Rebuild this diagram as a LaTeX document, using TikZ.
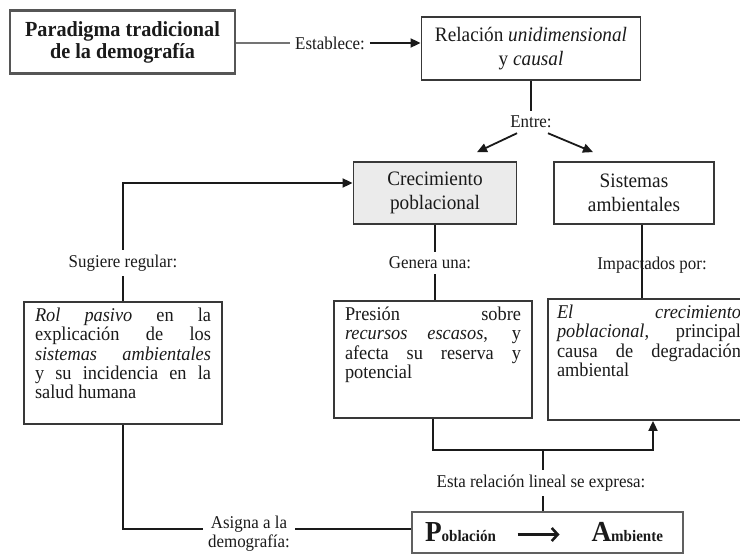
\documentclass[tikz,border=0pt]{standalone}
\usepackage{fontspec}
\setmainfont{Liberation Serif}[FakeStretch=0.94]
\usetikzlibrary{arrows.meta,calc}
\hbadness=10000
\hfuzz=5pt
\definecolor{ink}{HTML}{1A1A1A}
\definecolor{edge}{HTML}{383838}
\definecolor{shade}{HTML}{EBEBEB}
\newcommand{\bodytext}[3]{\parbox[c][#2][t]{#1}{\fontsize{19.5}{19.3}\selectfont #3}}
\begin{document}
\begin{tikzpicture}[x=1pt,y=-1pt,
  boxh/.style={draw=edge, line width=1.8pt, text=ink, align=center, inner sep=0pt, font=\fontsize{20.5}{24}\selectfont},
  boxb/.style={draw=edge, line width=1.8pt, text=ink, inner ysep=6pt},
  lbl/.style={text=ink, inner sep=5pt, font=\fontsize{18}{19}\selectfont, align=center},
  conn/.style={draw=ink, line width=1.8pt},
  arr/.style={conn, -{Triangle[length=10pt,width=9pt]}}]
\useasboundingbox (0,0) rectangle (740,554);
\clip (0,0) rectangle (740,554);

% boxes
\node[boxh, draw=edge!85, line width=2.4pt, minimum width=225pt, minimum height=63pt,
      font=\bfseries\fontsize{21.5}{22}\selectfont] (par) at (122.5,42) {Paradigma tradicional\\de la demografía};
\node[boxh, minimum width=219pt, minimum height=63pt] (rel) at (531,48.5)
      {Relación \textit{unidimensional}\\y \textit{causal}};
\node[boxh, fill=shade, minimum width=163pt, minimum height=62pt] (crec) at (435,193)
      {Crecimiento\\poblacional};
\node[boxh, minimum width=160pt, minimum height=62pt] (sist) at (634,193)
      {Sistemas\\ambientales};
\node[boxb, inner xsep=11pt] (rol) at (123,363)
      {\bodytext{176pt}{110pt}{\textit{Rol pasivo} en la\linebreak
       explicación de los\linebreak \textit{sistemas ambientales}\linebreak
       y su incidencia en la\linebreak salud humana}};
\node[boxb, inner xsep=11pt] (pres) at (433,359.5)
      {\bodytext{176pt}{105pt}{Presión sobre\linebreak
       \textit{recursos escasos}, y\linebreak afecta su reserva y\linebreak potencial}};
\node[boxb, inner xsep=9pt] (elc) at (649,359.5)
      {\bodytext{184pt}{109pt}{\textit{El crecimiento}\linebreak
       \textit{poblacional}, principal\linebreak causa de degradación\linebreak ambiental}};
\node[draw=edge!80, line width=2.2pt, text=ink, inner sep=0pt, minimum width=271pt, minimum height=41pt, font=\bfseries] (pob) at (547.5,532.5)
      {\makebox[271pt]{\hspace{13pt}{\fontsize{29}{30}\selectfont P}{\fontsize{16}{17}\selectfont oblación}\hfill{\fontsize{29}{30}\selectfont A}{\fontsize{16}{17}\selectfont mbiente}\hspace{20pt}}};

% labels
\node[lbl] (est) at (330,43) {Establece:};
\node[lbl] (entre) at (531,122) {Entre:};
\node[lbl] (sug) at (123,263) {Sugiere regular:};
\node[lbl] (gen) at (430,263) {Genera una:};
\node[lbl] (esta) at (541,483) {Esta relación lineal se expresa:};
\node[lbl] (asig) at (249,534) {Asigna a la\\demografía:};

% connectors
\draw[conn, draw=edge!70] (est.west -| par.east) -- (est.west);
\draw[arr] (est.east) -- (est.east -| rel.west);
\draw[conn] (rel.south) -- (entre.north);
\draw[arr] ([xshift=-14pt]entre.south) -- ([shift={(42,-9)}]crec.north);
\draw[arr] ([xshift=17pt]entre.south) -- ([shift={(-41,-9)}]sist.north);
\draw[conn] (rol.north) -- (sug.south);
\draw[arr] (sug.north) |- ([yshift=10pt]crec.west);
\draw[conn] (crec.south) -- (crec.south |- gen.north);
\draw[conn] (crec.south |- gen.south) -- (crec.south |- pres.north);
\draw[conn] ([xshift=8pt]sist.south) -- ([xshift=8pt]sist.south |- elc.north);
\node[lbl] (imp) at (652,265) {Impactados por:};
\draw[arr] (pres.south) -- ++(0,31) coordinate (hb) -| ([xshift=4pt]elc.south);
\coordinate (j) at (543,449);
\draw[conn] (j) -- (j |- esta.north);
\draw[conn] (j |- esta.south) -- (j |- pob.north);
\draw[conn] (rol.south) |- ([yshift=5pt]asig.west);
\draw[conn] ([yshift=5pt]asig.east) -- ([yshift=5pt]asig.east -| pob.west);
% arrow inside the Poblacion -> Ambiente box
\draw[draw=ink, line width=2.6pt, -{Straight Barb[length=6pt,width=13pt]}]
      ([shift={(-30,2)}]pob.center) -- ([shift={(12,2)}]pob.center);
\end{tikzpicture}
\end{document}
